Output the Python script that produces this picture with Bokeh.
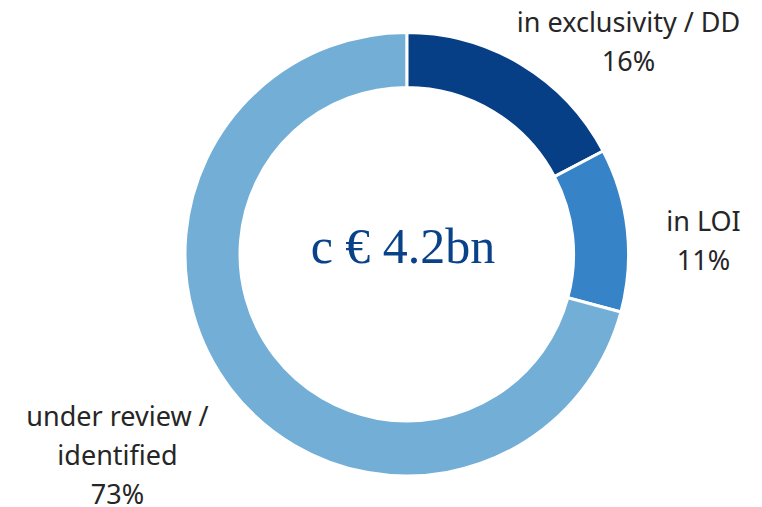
import math
from bokeh.plotting import figure
from bokeh.models import ColumnDataSource, Range1d
from bokeh.core.properties import value
from bokeh.embed import file_html
from bokeh.resources import INLINE

# ---- data ----
categories = ["in exclusivity / DD", "in LOI", "under review /\nidentified"]
shares = [17.3, 11.9, 70.8]          # arc shares as drawn
pct_labels = ["16%", "11%", "73%"]   # printed percentages
colors = ["#073F86", "#3783C8", "#72AED6"]
center_label = "c € 4.2bn"

W, H = 762, 507

def px(X, Y):
    """picture pixel -> data coords (1 unit = 1 px)"""
    return X, H - Y

p = figure(width=W, height=H, output_backend="svg", toolbar_location=None,
           x_range=Range1d(0, W), y_range=Range1d(0, H), min_border=0)
p.axis.visible = False
p.grid.visible = False
p.outline_line_color = None
p.background_fill_color = "white"
p.border_fill_color = "white"

total = sum(shares)
starts, ends = [], []
cum = 0.0
for s in shares:
    starts.append(math.pi / 2 - 2 * math.pi * cum / total)
    cum += s
    ends.append(math.pi / 2 - 2 * math.pi * cum / total)

cx, cy = px(406.3, 253.7)
src = ColumnDataSource(dict(start=starts, end=ends, color=colors))
p.annular_wedge(x=cx, y=cy, inner_radius=166.8, outer_radius=221.8,
                start_angle="start", end_angle="end", direction="clock",
                fill_color="color", line_color="white", line_width=3, source=src)

# center text (empirical baseline correction)
tx, ty = px(402.5, 266.7 - 21)
p.text(x=[tx], y=[ty], text=[center_label], text_font=value("Liberation Serif"),
       text_font_size="50px", text_color="#0A4289", text_align="center",
       text_baseline="alphabetic")

# labels: anchor (center x, first baseline) in picture px
fs = 27
anchors = [(628, 33.3), (703, 232.3), (117, 427.3)]
step = 39.3
lx, ly, lt = [], [], []
for cat, pct, (ax, ay) in zip(categories, pct_labels, anchors):
    lines = cat.split("\n") + [pct]
    for i, line in enumerate(lines):
        x, y = px(ax, ay + i * step - 0.46 * fs)
        lx.append(x); ly.append(y); lt.append(line)
p.text(x=lx, y=ly, text=lt, text_font=value("Noto Sans"), text_font_size=f"{fs}px",
       text_color="#262626", text_align="center", text_baseline="alphabetic")

open("out.html", "w").write(file_html(p, INLINE))
